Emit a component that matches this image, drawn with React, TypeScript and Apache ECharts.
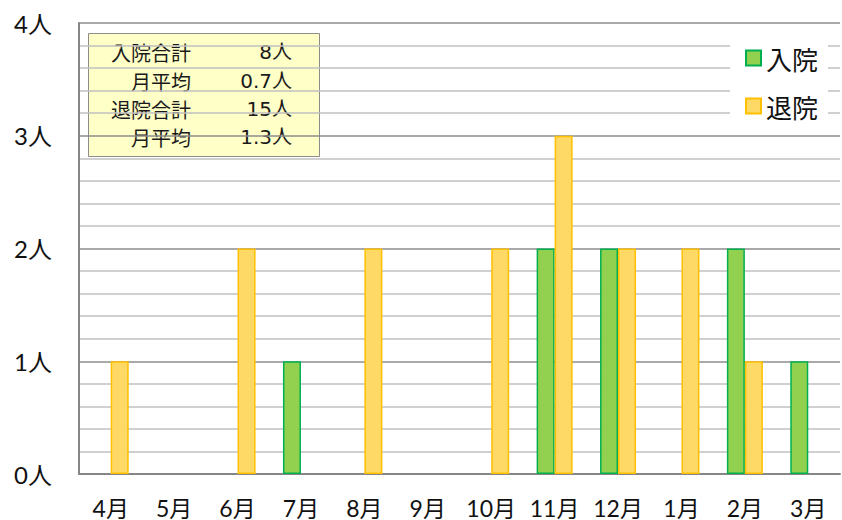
import React, { useEffect, useRef } from "react";
import * as echarts from "echarts";

const months = ["4月", "5月", "6月", "7月", "8月", "9月", "10月", "11月", "12月", "1月", "2月", "3月"];
const admissions = [0, 0, 0, 1, 0, 0, 0, 2, 2, 0, 2, 1];
const discharges = [1, 0, 2, 0, 2, 0, 2, 3, 2, 2, 1, 0];
const seriesNames = ["入院", "退院"];
const summaryLabels = ["入院合計", "月平均", "退院合計", "月平均"];
const summaryValues = ["8人", "0.7人", "15人", "1.3人"];

const hideZero = (arr: number[]) => arr.map((v) => (v === 0 ? "-" : v));

export default function App() {
  const ref = useRef<HTMLDivElement>(null);
  useEffect(() => {
    if (!ref.current) return;
    const chart = echarts.init(ref.current, null, { renderer: "svg" });
    const latin = "Lato, 'Noto Sans CJK JP', sans-serif";
    const cjk = "'Noto Sans CJK JP', sans-serif";
    const boxVal = "'DejaVu Sans', 'Noto Sans CJK JP', sans-serif";
    const rowY = [52, 81, 109, 137];
    const boxTexts: any[] = [];
    summaryLabels.forEach((t, i) => {
      boxTexts.push({
        type: "text",
        x: 191,
        y: rowY[i],
        style: { text: t, fontSize: 20, fontFamily: cjk, fill: "#1a1a1a", align: "right", verticalAlign: "middle" },
      });
      boxTexts.push({
        type: "text",
        x: 292,
        y: rowY[i],
        style: { text: summaryValues[i], fontSize: 20, fontFamily: boxVal, fill: "#1a1a1a", align: "right", verticalAlign: "middle" },
      });
    });
    chart.setOption({
      animation: false,
      backgroundColor: "#ffffff",
      grid: { left: 79, right: 2, top: 23, bottom: 46, containLabel: false },
      legend: {
        orient: "vertical",
        right: 14,
        top: 33,
        data: seriesNames,
        icon: "rect",
        itemWidth: 15,
        itemHeight: 15,
        itemGap: 22,
        backgroundColor: "#ffffff",
        padding: [12, 10, 12, 15],
        textStyle: { fontSize: 26, fontFamily: cjk, color: "#111" },
        z: 10,
      },
      xAxis: {
        type: "category",
        data: months,
        axisTick: { show: false },
        axisLine: { lineStyle: { color: "#868686", width: 2 } },
        axisLabel: { interval: 0, fontSize: 23, fontFamily: latin, color: "#111", margin: 22 },
      },
      yAxis: {
        type: "value",
        min: 0,
        max: 4,
        interval: 1,
        axisLine: { show: true, lineStyle: { color: "#868686", width: 2 } },
        axisTick: { show: false },
        axisLabel: { formatter: "{value}人", fontSize: 24, fontFamily: latin, color: "#111", margin: 27 },
        splitLine: { lineStyle: { color: "#8c8c8c", width: 1.5 } },
        minorTick: { show: false, splitNumber: 5 },
        minorSplitLine: { show: true, lineStyle: { color: "#c0c0c0", width: 1.5 } },
      },
      series: [
        {
          name: seriesNames[0],
          type: "bar",
          data: hideZero(admissions),
          barWidth: 18,
          barGap: "0%",
          itemStyle: { color: "#92D050", borderColor: "#00B050", borderWidth: 1.5 },
        },
        {
          name: seriesNames[1],
          type: "bar",
          data: hideZero(discharges),
          barWidth: 18,
          itemStyle: { color: "#FFD966", borderColor: "#FFC000", borderWidth: 1.5 },
        },
      ],
      graphic: [
        {
          type: "group",
          z: 20,
          children: [
            {
              type: "rect",
              shape: { x: 88.5, y: 33.5, width: 231, height: 123 },
              style: { fill: "#FFFFC8", stroke: "#8c8c8c", lineWidth: 1 },
            },
            ...boxTexts,
          ],
        },
      ],
    });
    return () => chart.dispose();
  }, []);
  return <div ref={ref} style={{ position: "fixed", left: 0, top: 0, width: 842, height: 520 }} />;
}
